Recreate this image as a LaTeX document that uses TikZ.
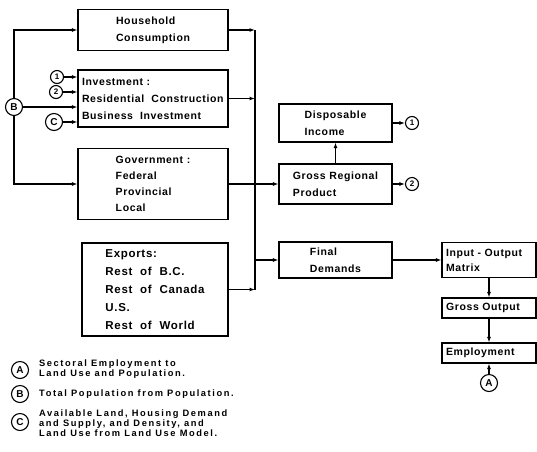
\documentclass[tikz,border=0pt]{standalone}
\usepackage{fontspec}
\setmainfont{Liberation Sans}[LetterSpace=6]
\usetikzlibrary{arrows.meta}

\begin{document}
\begin{tikzpicture}[x=1pt,y=-1pt]
% Diagram style
\tikzset{
    box/.style={draw, line width=1.1pt, inner sep=4pt, minimum width=150pt, align=left,
        font=\bfseries\fontsize{10.5}{17}\selectfont},
    circ/.style={draw, circle, line width=1.1pt, inner sep=0pt, minimum size=13pt,
        font=\bfseries\fontsize{8}{8}\selectfont},
    bigcirc/.style={circ, minimum size=17pt, font=\bfseries\fontsize{10}{10}\selectfont},
    legend/.style={align=left, inner sep=1pt,
        font=\bfseries\fontsize{9.3}{10.3}\selectfont\addfontfeatures{LetterSpace=17}},
    line/.style={line width=1.1pt},
    arr/.style={line width=1.1pt, -{Latex[length=5.5pt,width=4pt]}}
}
\useasboundingbox (0,0) rectangle (537,451);

% Boxes
\node[box, minimum height=41pt] (hh) at (153,30) {Household\\Consumption};
\node[box, minimum height=57pt, text width=142pt] (inv) at (153,98.5)
    {Investment :\\Residential~~Construction\\Business~~Investment};
\node[box, minimum height=71pt, font=\bfseries\fontsize{10.5}{16}\selectfont] (gov) at (153,184)
    {Government :\\Federal\\Provincial\\Local};
\node[box, minimum width=146pt, minimum height=93pt, font=\bfseries\fontsize{11.5}{18}\selectfont] (exp) at (155,289.5)
    {Exports:\\Rest~ of~ B.C.\\Rest~ of~ Canada\\U.S.\\Rest~ of~ World};

\node[box, minimum width=113pt, minimum height=38pt] (di) at (335.5,123) {Disposable\\Income};
\node[box, minimum width=113pt, minimum height=40pt] (grp) at (335.5,184) {Gross Regional\\Product};
\node[box, minimum width=113pt, minimum height=36pt] (fd) at (335.5,260) {Final\\Demands};

\node[box, minimum width=94pt, text width=86pt, minimum height=35pt, font=\bfseries\fontsize{10.5}{15}\selectfont] (io) at (489,260) {Input - Output\\Matrix};
\node[box, minimum width=94pt, text width=86pt, minimum height=20pt] (go) at (489,308) {Gross Output};
\node[box, minimum width=94pt, text width=86pt, minimum height=20pt] (emp) at (489,353) {Employment};

% Circled inputs and outputs
\node[bigcirc] (B) at (14,107) {B};
\node[circ] (i1) at (57,77) {1};
\node[circ] (i2) at (56,92) {2};
\node[bigcirc] (iC) at (54,122) {C};
\node[circ] (o1) at (412,123) {1};
\node[circ] (o2) at (412,184) {2};
\node[bigcirc] (A) at (489,383) {A};

% Connection
\coordinate (bustop) at (255,30);
\coordinate (busbot) at (255,289.5);
\draw[line] (bustop) -- (busbot);
\draw[arr] (hh.east) -- (hh.east -| bustop);
\draw[arr] (inv.east) -- (inv.east -| bustop);
\draw[arr] (exp.east) -- (exp.east -| busbot);
\draw[arr] (gov.east) -- (grp.west);
\draw[arr] (fd.west -| bustop) -- (fd.west);
\draw[arr] (fd.east) -- (io.west);

\draw[arr] (B.north) |- (hh.west);
\draw[arr] (B.east) -- (B.east -| inv.west);
\draw[arr] (B.south) |- (gov.west);
\draw[arr] (i1.east) -- (i1.east -| inv.west);
\draw[arr] (i2.east) -- (i2.east -| inv.west);
\draw[arr] (iC.east) -- (iC.east -| inv.west);

\draw[arr] (grp.north) -- (di.south);
\draw[arr] (di.east) -- (o1.west);
\draw[arr] (grp.east) -- (o2.west);

\draw[arr] (io.south) -- (go.north);
\draw[arr] (go.south) -- (emp.north);
\draw[arr] (A.north) -- (emp.south);

% Legend
\node[bigcirc] (kA) at (20,370) {A};
\node[bigcirc] (kB) at (20,394) {B};
\node[bigcirc] (kC) at (20,422) {C};
\node[legend, anchor=west] (kAtext) at (38,369) {Sectoral Employment to\\Land Use and Population.};
\node[legend, anchor=west] (kBtext) at (38,394) {Total Population from Population.};
\node[legend, anchor=west] (kCtext) at (38,423) {Available Land, Housing Demand\\and Supply, and Density, and\\Land Use from Land Use Model.};
\end{tikzpicture}
\end{document}
